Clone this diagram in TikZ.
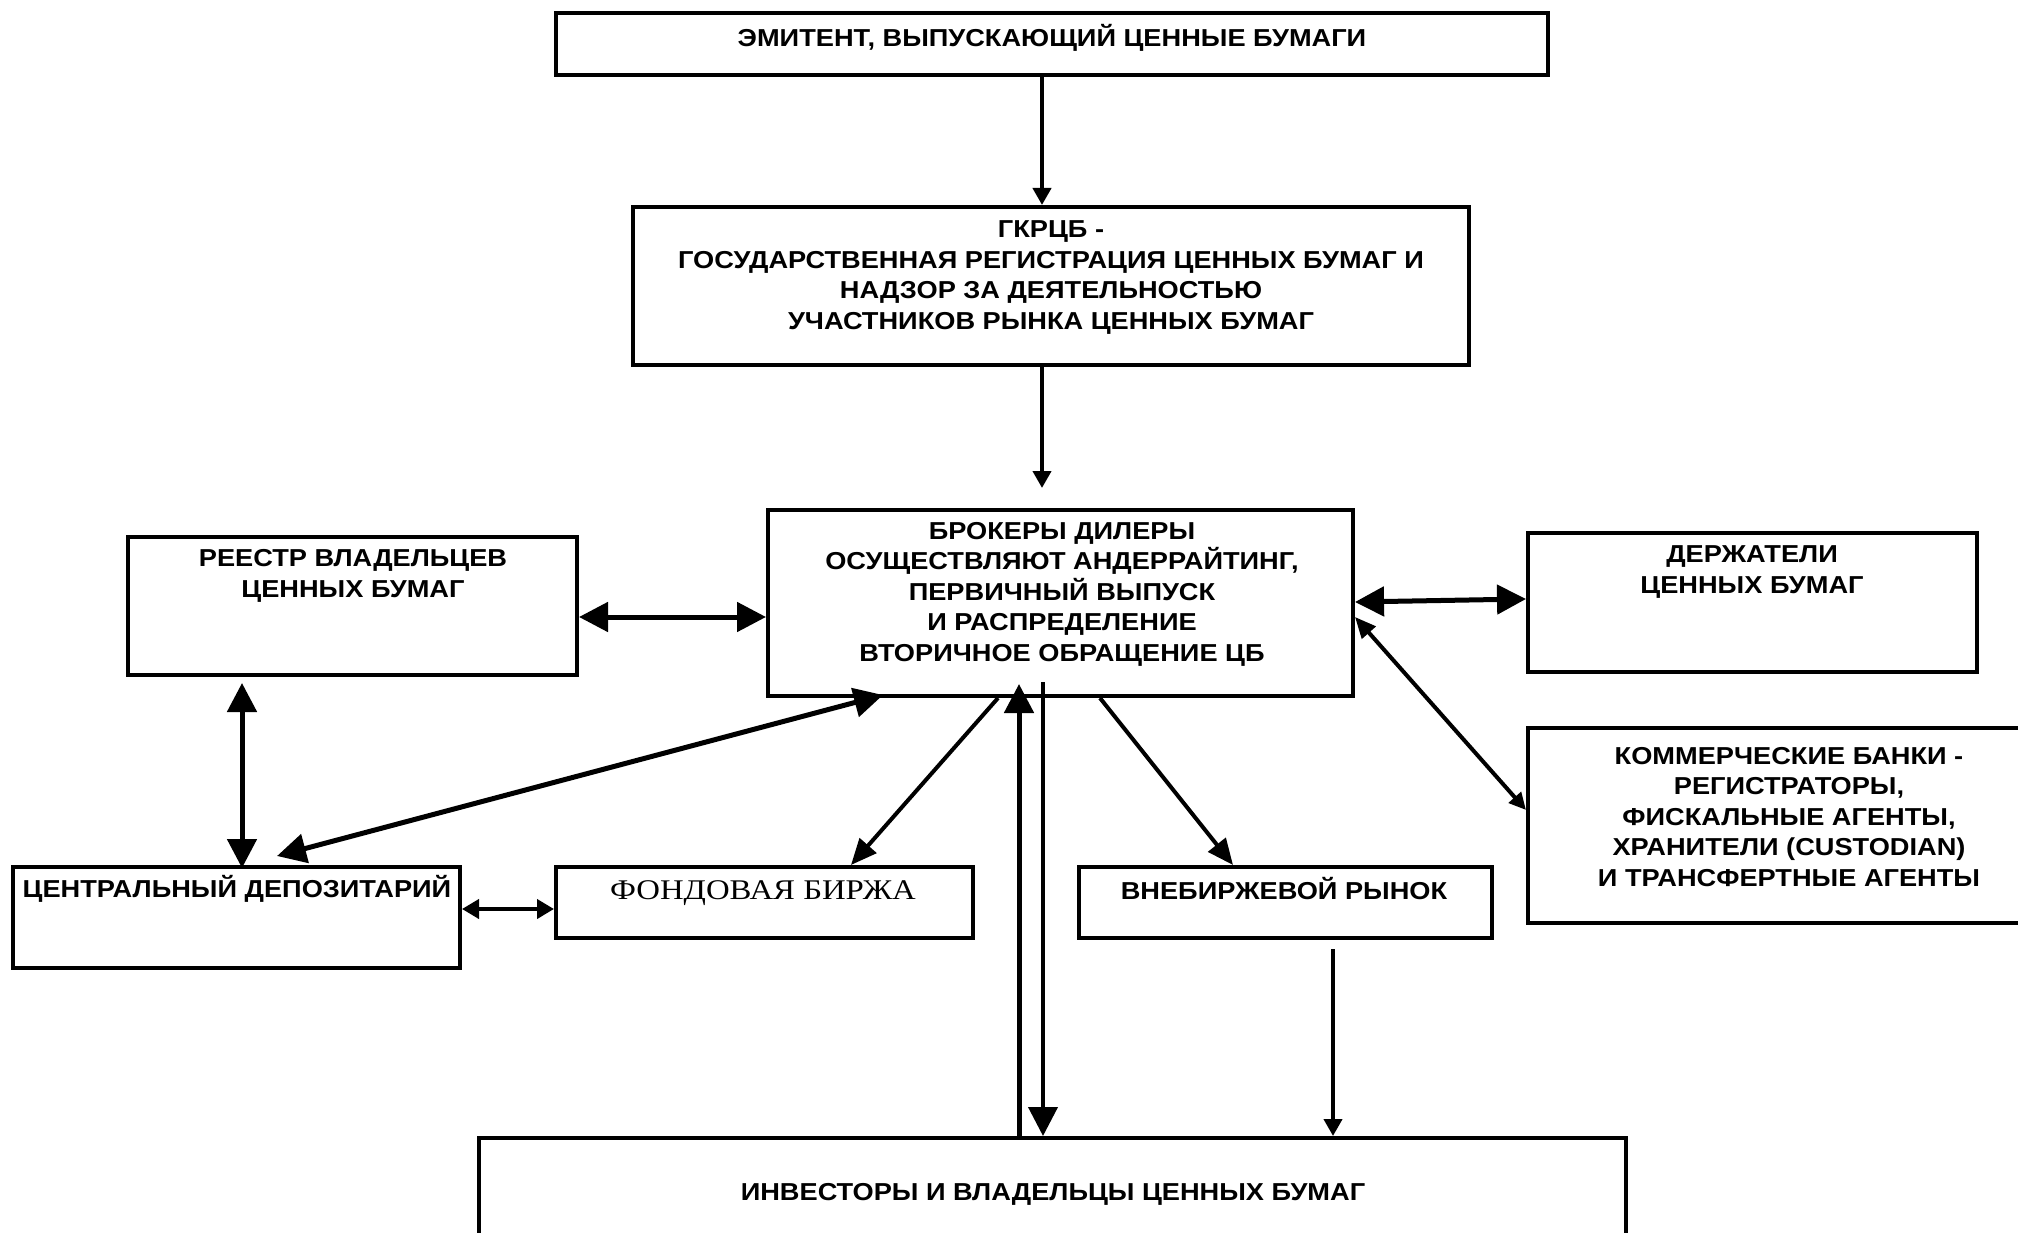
\documentclass[tikz,border=0pt]{standalone}
\usepackage{fontspec}
\setmainfont{Liberation Sans}[FakeStretch=1.11]
\newfontfamily\timesfont{Liberation Serif}[FakeStretch=1.15]
\usetikzlibrary{arrows.meta}
\begin{document}
\begin{tikzpicture}[x=1pt,y=-1pt,
  box/.style={draw, line width=4pt, inner sep=0pt},
  txt/.style={align=center, font=\fontsize{24.5}{30.5}\selectfont\bfseries, inner sep=0pt},
  link/.style={line width=4pt},
  thicklink/.style={line width=5pt},
  bigboth/.style={{Triangle[length=29pt,width=29pt]}-{Triangle[length=29pt,width=29pt]}},
  bigto/.style={-{Triangle[length=29pt,width=29pt]}},
  midto/.style={-{Triangle[length=26pt,width=22pt]}},
  smallto/.style={-{Triangle[length=17pt,width=18pt]}},
  smallboth/.style={{Triangle[length=17pt,width=19pt]}-{Triangle[length=17pt,width=19pt]}},
  bankboth/.style={{Triangle[length=21pt,width=18pt]}-{Triangle[length=17pt,width=16pt]}},
]
\useasboundingbox[fill=white] (0,0) rectangle (2018,1233);

% boxes
\node[box, minimum width=992pt, minimum height=62pt]  (emit)   at (1052,44)     {};
\node[box, minimum width=836pt, minimum height=158pt] (gkr)    at (1051,286)    {};
\node[box, minimum width=585pt, minimum height=186pt] (brok)   at (1060.5,603)  {};
\node[box, minimum width=449pt, minimum height=138pt] (reestr) at (352.5,606)   {};
\node[box, minimum width=449pt, minimum height=139pt] (derzh)  at (1752.5,602.5){};
\node[box, minimum width=522pt, minimum height=195pt] (banks)  at (1789,825.5)  {};
\node[box, minimum width=447pt, minimum height=101pt] (cd)     at (236.5,917.5) {};
\node[box, minimum width=417pt, minimum height=71pt]  (fond)   at (764.5,902.5) {};
\node[box, minimum width=413pt, minimum height=71pt]  (vneb)   at (1285.5,902.5){};
\node[box, minimum width=1147pt, minimum height=122pt] (inv)   at (1052.5,1199) {};

% labels
\node[txt] (emitT) at (1052,37.5) {ЭМИТЕНТ, ВЫПУСКАЮЩИЙ ЦЕННЫЕ БУМАГИ};
\node[txt] (gkrT) at (1051,277.5) {ГКРЦБ -\\ГОСУДАРСТВЕННАЯ РЕГИСТРАЦИЯ ЦЕННЫХ БУМАГ И\\НАДЗОР ЗА ДЕЯТЕЛЬНОСТЬЮ\\УЧАСТНИКОВ РЫНКА ЦЕННЫХ БУМАГ};
\node[txt] (brokT) at (1062,594) {БРОКЕРЫ ДИЛЕРЫ\\ОСУЩЕСТВЛЯЮТ АНДЕРРАЙТИНГ,\\ПЕРВИЧНЫЙ ВЫПУСК\\И РАСПРЕДЕЛЕНИЕ\\ВТОРИЧНОЕ ОБРАЩЕНИЕ ЦБ};
\node[txt] (reestrT) at (353,576) {РЕЕСТР ВЛАДЕЛЬЦЕВ\\ЦЕННЫХ БУМАГ};
\node[txt] (derzhT) at (1752,572) {ДЕРЖАТЕЛИ\\ЦЕННЫХ БУМАГ};
\node[txt] (banksT) at (1789,817) {КОММЕРЧЕСКИЕ БАНКИ -\\РЕГИСТРАТОРЫ,\\ФИСКАЛЬНЫЕ АГЕНТЫ,\\ХРАНИТЕЛИ (CUSTODIAN)\\И ТРАНСФЕРТНЫЕ АГЕНТЫ};
\node[txt] (cdT) at (237,889) {ЦЕНТРАЛЬНЫЙ ДЕПОЗИТАРИЙ};
\node[inner sep=0pt, font=\fontsize{28.5}{32}\selectfont\timesfont] (fondT) at (763,893) {ФОНДОВАЯ БИРЖА};
\node[txt] (vnebT) at (1284,889) {ВНЕБИРЖЕВОЙ РЫНОК};
\node[txt] (invT) at (1053,1194) {ИНВЕСТОРЫ И ВЛАДЕЛЬЦЫ ЦЕННЫХ БУМАГ};

% connectors
\draw[link, smallto] ([xshift=-10pt]emit.south) -- ([xshift=-9pt]gkr.north);
\draw[link, smallto] ([xshift=-9pt]gkr.south) -- ([xshift=-18.5pt,yshift=20pt]brok.north);
\draw[thicklink, bigboth] ([yshift=-11pt]reestr.east) -- ([yshift=-14pt]brok.west);
\draw[thicklink, bigboth] ([yshift=1pt]brok.east) -- ([yshift=3.5pt]derzh.west);
\draw[link, bankboth] ([yshift=-14pt]brok.east) -- ([yshift=15.5pt]banks.west);
\draw[thicklink, bigboth] ([xshift=-110.5pt,yshift=-6pt]reestr.south) -- ([xshift=5.5pt,yshift=-3pt]cd.north);
\draw[thicklink, bigboth] ([xshift=-177.5pt,yshift=3pt]brok.south) -- ([xshift=40.5pt,yshift=9pt]cd.north);
\draw[link, midto] ([xshift=-62.5pt]brok.south) -- ([xshift=86.5pt]fond.north);
\draw[link, midto] ([xshift=39.5pt]brok.south) -- ([xshift=-52.5pt]vneb.north);
\draw[link, smallboth] ([yshift=8.5pt]cd.east) -- ([yshift=-6.5pt]fond.west);
\draw[thicklink, bigto] ([xshift=-33.5pt]inv.north) -- ([xshift=-41.5pt,yshift=14pt]brok.south);
\draw[link, bigto] ([xshift=-17.5pt,yshift=16pt]brok.south) -- ([xshift=-9.5pt]inv.north);
\draw[link, smallto] ([xshift=47.5pt,yshift=-9pt]vneb.south) -- ([xshift=280.5pt]inv.north);
\end{tikzpicture}
\end{document}
